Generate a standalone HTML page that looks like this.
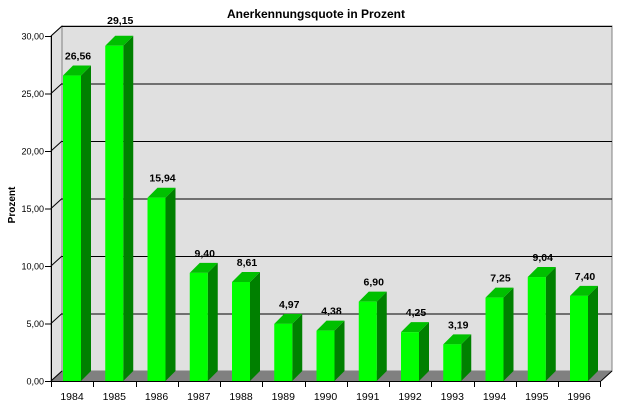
<!DOCTYPE html><html><head><style>body{margin:0;background:#fff}</style></head><body>
<svg width="631" height="412" xmlns="http://www.w3.org/2000/svg" font-family="Liberation Sans, sans-serif">
<rect width="631" height="412" fill="#fff"/>
<text x="316" y="18" font-size="12" font-weight="bold" text-anchor="middle">Anerkennungsquote in Prozent</text>
<text transform="translate(15,205) rotate(-90)" font-size="10" font-weight="bold" text-anchor="middle">Prozent</text>
<polygon points="51,36 62,26 62,371 51,381" fill="#e0e0e0" stroke="#808080" stroke-width="1"/>
<rect x="62" y="26" width="550" height="345" fill="#e0e0e0" stroke="#808080" stroke-width="1"/>
<polygon points="51,381 62,371 612,371 601,381" fill="#808080"/>
</svg>
<script>
const s=document.querySelector('svg'),ns='http://www.w3.org/2000/svg';
function el(t,a,txt){const e=document.createElementNS(ns,t);for(const k in a)e.setAttribute(k,a[k]);if(txt)e.textContent=txt;s.appendChild(e);return e;}
for(let i=1;i<=6;i++){const v=i*5,yb=371-v*11.5;el('line',{x1:62,y1:yb+.5,x2:612,y2:yb+.5,stroke:'#000'});}
el('line',{x1:51.5,y1:36,x2:51.5,y2:381,stroke:'#000'});
el('line',{x1:51,y1:381.5,x2:601,y2:381.5,stroke:'#000'});
el('line',{x1:601,y1:381,x2:612,y2:371,stroke:'#000'});
for(let i=0;i<=6;i++){const v=i*5,y=381-v*11.5;
el('line',{x1:45,y1:y+.5,x2:51,y2:y+.5,stroke:'#000'});
el('line',{x1:51,y1:y,x2:62,y2:y-10,stroke:'#000'});
el('text',{x:44,y:y+3.5,'font-size':9,'text-anchor':'end'},v.toFixed(2).replace('.',','));}
const d=[26.56,29.15,15.94,9.40,8.61,4.97,4.38,6.90,4.25,3.19,7.25,9.04,7.40];
d.forEach((v,i)=>{const x=63+i*42.25,top=381-v*11.5;
el('polygon',{points:`${x+18},${top} ${x+28},${top-10} ${x+28},371 ${x+18},381`,fill:'#008000'});
el('polygon',{points:`${x},${top} ${x+10},${top-10} ${x+28},${top-10} ${x+18},${top}`,fill:'#00c000'});
el('rect',{x:x,y:top,width:18,height:381-top,fill:'#00ff00'});
const ly=i==1?24:top-16;
el('text',{x:x+15,y:ly,'font-size':10.5,'font-weight':'bold','text-anchor':'middle'},v.toFixed(2).replace('.',','));
const tx=Math.round(51+i*42.25)+.5;el('line',{x1:tx,y1:381,x2:tx,y2:387,stroke:'#000'});
el('text',{x:x+9,y:400,'font-size':10.5,'text-anchor':'middle'},String(1984+i));});
el('line',{x1:600.5,y1:381,x2:600.5,y2:387,stroke:'#000'});
</script>
</body></html>
